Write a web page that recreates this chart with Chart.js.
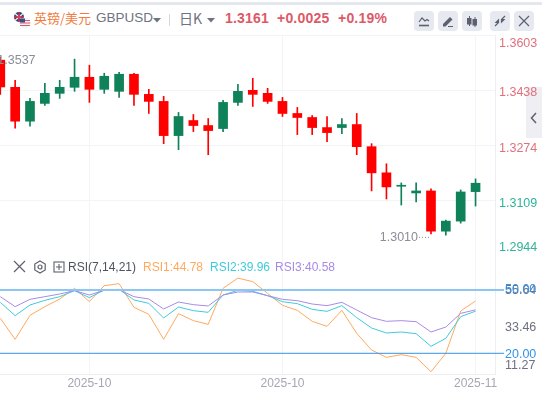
<!DOCTYPE html>
<html>
<head>
<meta charset="utf-8">
<title>GBPUSD</title>
<script src="https://cdn.jsdelivr.net/npm/chart.js@4/dist/chart.umd.min.js"></script>
<style>
html,body{margin:0;padding:0;background:#fff;overflow:hidden}
#wrap{position:relative;width:542px;height:395px;font-family:"Liberation Sans",Arial,sans-serif;overflow:hidden}
#wrap span,#wrap svg,#wrap canvas,#wrap div{position:absolute}
.topband{left:0;top:2px;width:542px;height:3px;background:#e4e7ee}
.btn{top:11px;width:20px;height:20px;border-radius:4px;background:#e6e9f0}
.hdr{top:10px;font-size:14px;line-height:16px;white-space:nowrap}
.num{font-weight:bold;color:#dc5a68;letter-spacing:.2px}
.rsi{top:260px;font-size:12px;line-height:15px;white-space:nowrap}
</style>
</head>
<body>
<div id="wrap">
  <div class="topband"></div>
  <svg style="left:13px;top:11px" width="18" height="18" viewBox="0 0 18 18">
    <circle cx="6" cy="6" r="5" fill="#2b3f78"/>
    <path d="M2 2.5l8 7M10 2.5l-8 7" stroke="#e9e9ee" stroke-width="1.5"/>
    <path d="M6 1v10M1 6h10" stroke="#d8344a" stroke-width="1.4"/>
    <circle cx="12" cy="12" r="5.4" fill="#f4f4f6"/>
    <path d="M7 9.5h10M6.7 12h10.6M7 14.5h10" stroke="#dc5a68" stroke-width="1.2"/>
    <path d="M7 7.5h5v4H7z" fill="#3b4e86"/>
  </svg>
  <span class="hdr" style="left:34px;color:#f47b3e;font-family:'Noto Sans CJK SC';font-size:13px">英镑/美元</span>
  <span class="hdr" style="left:96px;color:#70727f;font-size:13.5px">GBPUSD</span>
  <svg style="left:153px;top:18px" width="8" height="5"><path d="M0 0h8L4 4.5z" fill="#70727f"/></svg>
  <div style="left:169px;top:14px;width:1px;height:12px;background:#d5d8e0"></div>
  <span class="hdr" style="left:179px;color:#70727f;font-family:'Noto Sans CJK SC'">日K</span>
  <svg style="left:207px;top:18px" width="8" height="5"><path d="M0 0h8L4 4.5z" fill="#70727f"/></svg>
  <span class="hdr num" style="left:225px">1.3161</span>
  <span class="hdr num" style="left:277px">+0.0025</span>
  <span class="hdr num" style="left:338px">+0.19%</span>

  <div class="btn" style="left:414px"></div>
  <svg style="left:414px;top:11px" width="20" height="20" fill="none" stroke="#5d606e" stroke-width="1.2"><path d="M5 11l3-4 3 3 2-1.500 2 1.500"/><path d="M5 14.500h10" stroke-width="1.600"/></svg>
  <div class="btn" style="left:438px"></div>
  <svg style="left:438px;top:11px" width="20" height="20"><path d="M5 13l7-7 2.500 2.500-7 7H5z" fill="#5d606e"/><path d="M10 15.500h5" stroke="#5d606e"/></svg>
  <div class="btn" style="left:462px"></div>
  <svg style="left:462px;top:11px" width="20" height="20" fill="#5d606e" stroke="#5d606e"><path d="M7.500 5v10M13 6v10" fill="none"/><rect x="5.500" y="7.500" width="3.500" height="5.500"/><rect x="11" y="8.500" width="3.500" height="5.500"/></svg>
  <div class="btn" style="left:490px"></div>
  <svg style="left:490px;top:11px" width="20" height="20" fill="#5d606e" stroke="#5d606e" stroke-width="1.200"><path d="M5 15l3.500-3.500M15 5l-3.500 3.500" fill="none"/><path d="M8.500 9v2.500H6zM11.500 11V8.500H14z"/></svg>
  <div class="btn" style="left:514px"></div>
  <svg style="left:514px;top:11px" width="20" height="20" fill="none" stroke="#5d606e" stroke-width="1.200"><path d="M5 5l10 10M15 5L5 15"/></svg>

  <div style="left:526px;top:87px;width:16px;height:51px;background:#eeeef3"></div>
  <svg style="left:530px;top:112px" width="8" height="12" fill="none" stroke="#5d606e" stroke-width="1.500"><path d="M6 1L1.500 6 6 11"/></svg>

  <canvas id="priceChart" width="542" height="221" style="left:0;top:35px"></canvas>
  <canvas id="rsiChart" width="542" height="139" style="left:0;top:256px"></canvas>

  <svg style="left:13px;top:260px" width="14" height="14" fill="none" stroke="#5d606e" stroke-width="1.200"><path d="M1 1l11 11M12 1L1 12"/></svg>
  <svg style="left:33px;top:260px" width="14" height="14" fill="none" stroke="#5d606e" stroke-width="1.200"><path d="M7 1l5.200 3v6L7 13l-5.200-3V4z"/><circle cx="7" cy="7" r="2"/></svg>
  <svg style="left:53px;top:261px" width="13" height="13" fill="none" stroke="#5d606e" stroke-width="1.100"><rect x="1" y="1" width="10" height="10"/><path d="M6 3v6M3 6h6"/></svg>
  <span class="rsi" style="left:68px;color:#4e5160">RSI(7,14,21)</span>
  <span class="rsi" style="left:143px;color:#ffa95e">RSI1:44.78</span>
  <span class="rsi" style="left:210px;color:#3fcbdc">RSI2:39.96</span>
  <span class="rsi" style="left:275px;color:#a98ae6">RSI3:40.58</span>
</div>

<script>
/* ===== Data ===== */
const opens  = [1.3528,1.3447,1.3346,1.3399,1.3429,1.3447,1.3477,1.3441,1.3435,1.3486,1.3426,1.3405,1.3303,1.3348,1.3333,1.3324,1.3402,1.3438,1.3429,1.3405,1.3369,1.3357,1.3327,1.3327,1.3336,1.3270,1.3192,1.3152,1.3132,1.3138,1.3018,1.3048,1.3136];
const highs  = [1.3537,1.3468,1.3414,1.3459,1.3468,1.3531,1.3513,1.3489,1.3492,1.3489,1.3441,1.3420,1.3372,1.3366,1.3354,1.3408,1.3456,1.3474,1.3444,1.3417,1.3387,1.3363,1.3360,1.3354,1.3369,1.3279,1.3219,1.3162,1.3162,1.3144,1.3051,1.3141,1.3174];
const lows   = [1.3426,1.3325,1.3331,1.3393,1.3414,1.3435,1.3402,1.3429,1.3417,1.3393,1.3369,1.3279,1.3261,1.3315,1.3246,1.3315,1.3393,1.3390,1.3399,1.3360,1.3306,1.3306,1.3285,1.3309,1.3246,1.3138,1.3114,1.3096,1.3105,1.3010,1.3006,1.3042,1.3093];
const closes = [1.3448,1.3346,1.3405,1.3429,1.3447,1.3477,1.3441,1.3480,1.3486,1.3426,1.3405,1.3303,1.3360,1.3333,1.3318,1.3402,1.3435,1.3426,1.3405,1.3369,1.3357,1.3327,1.3312,1.3336,1.3270,1.3192,1.3150,1.3154,1.3138,1.3018,1.3048,1.3135,1.3161];

const rsi1 = [36.57,26.62,37.99,42.10,45.73,50.79,44.47,52.05,53.00,41.79,38.47,26.62,38.78,35.47,33.73,50.79,55.64,53.95,48.42,42.73,40.36,35.15,32.78,40.36,29.46,21.56,18.09,19.35,18.09,11.27,20.00,40.05,44.78];
const rsi2 = [44.15,37.84,42.89,45.10,46.84,49.68,46.37,50.00,50.32,45.26,43.68,36.73,41.94,40.21,39.42,47.63,49.84,49.37,47.31,44.47,43.52,40.84,39.89,42.58,36.89,31.99,29.62,30.09,29.31,23.30,27.09,37.36,39.96];
const rsi3 = [46.84,42.10,45.58,46.84,48.10,49.68,47.63,49.84,50.16,46.84,45.73,41.00,44.31,43.05,42.42,47.63,49.05,49.05,47.31,45.58,44.94,43.36,42.58,44.15,40.52,36.89,35.15,35.47,34.99,30.09,32.46,38.94,40.58];

const priceTicks = [1.3603,1.3438,1.3274,1.3109,1.2944];
const rsiTicks   = [55.64,50,33.46,20,11.27];
const dateTickIdx = [6,19,32];
const dateLabels  = ['2025-10','2025-10','2025-11'];
const highMark = {idx:0, value:1.3537, text:'1.3537'};
const lowMark  = {idx:29, value:1.3010, text:'1.3010'};

/* ===== Shared bits ===== */
const UP='#0f8259', DOWN='#ff0000', GRID='#f3f4f8', EDGE='#eceef3';
const FONT='12.5px "Liberation Sans", Arial, sans-serif';
const xRange={min:-0.02,max:33.31};
const xs=closes.map((_,i)=>i);
const candleColors=closes.map((c,i)=>c>=opens[i]?UP:DOWN);

// axis labels sit a little off their value in the reference, so they get nudged
const priceNudge=[9,2,3,3,-8];
const rsiNudge=[12,0,3,1,-6];
const priceColors=['#e0707c','#e0707c','#e0707c','#2fb39a','#2fb39a'];
const rsiColors=['#6d7080','#3293ea','#6d7080','#3293ea','#6d7080'];

function axisLabels(id,scaleId,labelX,nudge,colors,fmt){
  return {id,afterDraw(chart){
    const c=chart.ctx, s=chart.scales[scaleId];
    c.save(); c.font=FONT; c.textAlign='left'; c.textBaseline='middle';
    s.ticks.forEach((t,i)=>{
      c.fillStyle=colors[i];
      c.fillText(fmt(t.value),labelX,s.getPixelForValue(t.value)+nudge[i]);
    });
    c.restore();
  }};
}

const markLabels={id:'markLabels',afterDatasetsDraw(chart){
  const c=chart.ctx, x=chart.scales.x, y=chart.scales.y;
  c.save(); c.font=FONT; c.fillStyle='#8b8d98'; c.textBaseline='middle';
  c.textAlign='left';
  c.fillText(highMark.text,x.getPixelForValue(highMark.idx)-3,y.getPixelForValue(highMark.value)+3);
  const lx=x.getPixelForValue(lowMark.idx), ly=y.getPixelForValue(lowMark.value)+4;
  c.textAlign='right';
  c.fillText(lowMark.text,lx-13,ly);
  c.fillRect(lx-12,ly-1,1,1); c.fillRect(lx-9,ly-1,1,1); c.fillRect(lx-6,ly-1,1,1); c.fillRect(lx-3,ly-1,1,1);
  c.restore();
}};

/* ===== Candles ===== */
new Chart(document.getElementById('priceChart'),{
  type:'bar',
  data:{datasets:[
    {data:xs.map(i=>({x:i,y:[lows[i],highs[i]]})),backgroundColor:candleColors,barThickness:1,grouped:false,borderWidth:0},
    {data:xs.map(i=>({x:i,y:[opens[i],closes[i]]})),backgroundColor:candleColors,barThickness:9,grouped:false,borderWidth:0,minBarLength:1}
  ]},
  options:{
    responsive:false,animation:false,
    layout:{padding:0},
    plugins:{legend:{display:false},tooltip:{enabled:false}},
    scales:{
      x:{type:'linear',...xRange,offset:false,
        afterBuildTicks:s=>{s.ticks=dateTickIdx.map(v=>({value:v}));},
        ticks:{display:false},
        grid:{color:GRID,lineWidth:1,drawTicks:false,offset:false},border:{display:false}},
      y:{position:'right',min:1.2944,max:1.3603,
        afterBuildTicks:s=>{s.ticks=priceTicks.map(v=>({value:v}));},
        afterFit:s=>{s.width=47;},
        ticks:{display:false},
        grid:{color:GRID,lineWidth:1,drawTicks:false},border:{color:EDGE}}
    }
  },
  plugins:[markLabels,axisLabels('priceAxis','y',499,priceNudge,priceColors,v=>v.toFixed(4))]
});

/* ===== RSI pane ===== */
const rsiLine=(arr,color)=>({type:'line',yAxisID:'rsi',data:xs.map(i=>({x:i,y:arr[i]})),borderColor:color,borderWidth:1,pointRadius:0,tension:0});
const level=(v,color,w)=>({type:'line',yAxisID:'rsi',data:[{x:xRange.min,y:v},{x:xRange.max,y:v}],borderColor:color,borderWidth:w,pointRadius:0,tension:0});

const levelStubs={id:'levelStubs',afterDatasetsDraw(chart){
  const c=chart.ctx, y=chart.scales.rsi, r=chart.chartArea.right;
  c.save();
  c.fillStyle='#8cc6f4'; c.fillRect(r,y.getPixelForValue(50)-1,9,2);
  c.fillStyle='#3293ea'; c.fillRect(r,y.getPixelForValue(20)-.5,9,1);
  c.restore();
}};

new Chart(document.getElementById('rsiChart'),{
  type:'line',
  data:{datasets:[
    level(50,'#8cc6f4',2),
    level(20,'#3293ea',1),
    rsiLine(rsi3,'#a98ae6'),
    rsiLine(rsi2,'#3fcbdc'),
    rsiLine(rsi1,'#ffa95e')
  ]},
  options:{
    responsive:false,animation:false,
    layout:{padding:0},
    plugins:{legend:{display:false},tooltip:{enabled:false}},
    scales:{
      x:{type:'linear',...xRange,
        afterBuildTicks:s=>{s.ticks=dateTickIdx.map(v=>({value:v}));},
        afterFit:s=>{s.height=21;},
        ticks:{color:'#a5a7b2',font:{family:'"Liberation Sans", Arial, sans-serif',size:12},maxRotation:0,padding:2,
          callback:v=>dateLabels[dateTickIdx.indexOf(v)]},
        grid:{color:GRID,lineWidth:1,drawTicks:false},border:{color:EDGE}},
      rsi:{position:'right',min:10.19,max:66.11,
        afterBuildTicks:s=>{s.ticks=rsiTicks.map(v=>({value:v}));},
        afterFit:s=>{s.width=47;},
        ticks:{display:false},
        grid:{display:false},border:{color:EDGE}}
    }
  },
  plugins:[levelStubs,axisLabels('rsiAxis','rsi',505,rsiNudge,rsiColors,v=>v.toFixed(2))]
});
</script>
</body>
</html>
